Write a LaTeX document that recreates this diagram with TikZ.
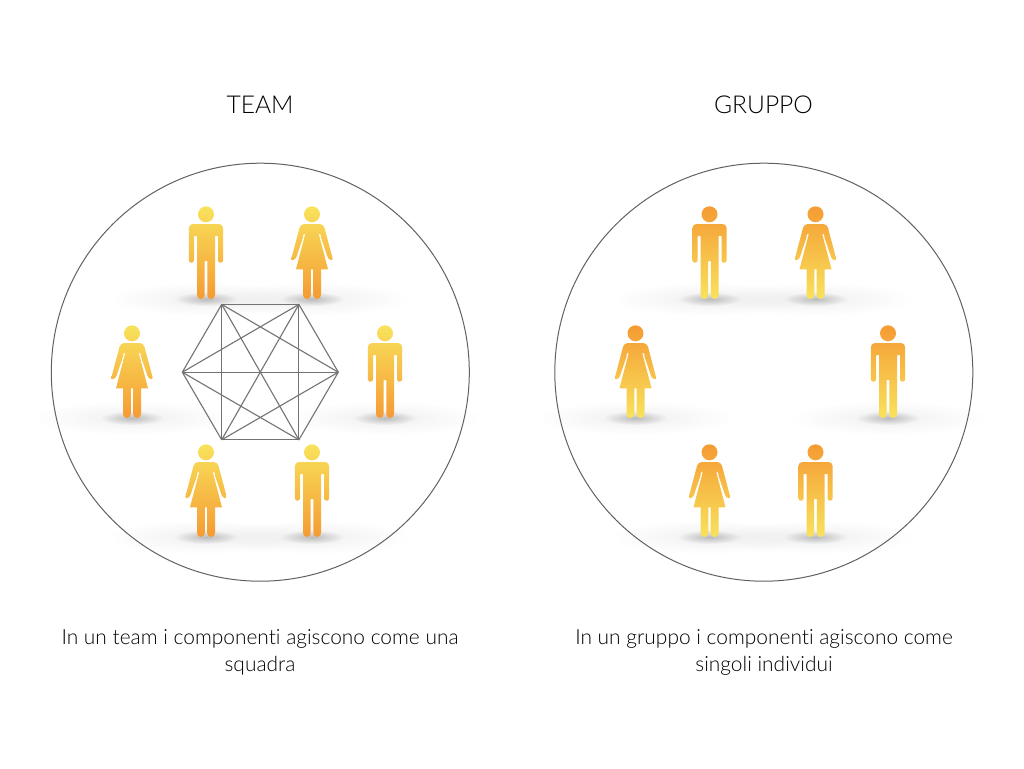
\documentclass[tikz,border=0pt]{standalone}
\usepackage{fontspec}
\setmainfont{Lato Light}[BoldFont={Lato},Ligatures=NoCommon]
\usetikzlibrary{calc}
\definecolor{fy}{HTML}{F8E25C}
\definecolor{fo}{HTML}{F59B33}
\tikzset{
  team/.style={top color=fy,bottom color=fo,middle color=fy!50!fo},
  gruppo/.style={top color=fo,bottom color=fy,middle color=fy!50!fo},
  ring/.style={draw=black!62,line width=1pt},
  link/.style={draw=black!55,line width=1.1pt},
  title/.style={font=\fontsize{24.6}{28}\selectfont,text=black,anchor=center},
  caption/.style={font=\fontsize{20.9}{27}\selectfont,text=black,align=center,anchor=center},
  softshadow/.pic={
    \shade[blend mode=multiply,inner color=black!6,outer color=white] (0,0) ellipse [x radius=100,y radius=17];
    \shade[blend mode=multiply,inner color=black!22,outer color=white] (0,0) ellipse [x radius=32,y radius=7];
  },
  pics/man/.style={code={
    \path[#1]
      (0,-84.7) circle [radius=8]
      [rounded corners=4] (-17.1,-75) rectangle (17.1,-63)
      [rounded corners=2.4] (-17.1,-72) rectangle (-12,-36.3) (12,-72) rectangle (17.1,-36.3)
      [sharp corners] (-9,-75) rectangle (9,-38)
      [rounded corners=3.9] (-9,-45) rectangle (-1.3,0) (1.3,-45) rectangle (9,0);
  }},
  pics/woman/.style={code={
    \path[#1]
      (0,-84.7) circle [radius=8]
      (-8,-75) -- (8,-75) -- (7,-64) -- (16,-29.7) -- (-16,-29.7) -- (-7,-64) -- cycle
      [rounded corners=3.8]
      (-3,-75) -- (-9,-62) -- (-14.9,-62) -- (-11.5,-75) -- cycle
      (3,-75) -- (11.5,-75) -- (14.9,-62) -- (9,-62) -- cycle
      [rounded corners=2.4]
      (-8.1,-64) -- (-16.4,-39.6) -- (-21.2,-38.3) -- (-12.8,-70) -- cycle
      (8.1,-64) -- (12.8,-70) -- (21.2,-38.3) -- (16.4,-39.6) -- cycle
      [rounded corners=3.9]
      (-1.2,-35) rectangle (-9,0) (9,-35) rectangle (1.2,0);
  }}
}
\begin{document}
\begin{tikzpicture}[x=1pt,y=-1pt]
\useasboundingbox (0,0) rectangle (1024,768);
\fill[white] (0,0) rectangle (1024,768);
% shadows
\foreach \px/\py in {206/299,312/299,132/418,385/418,206/537,312/537,709.5/299,815.5/299,635.5/418,888/418,709.5/537,815.5/537}
  \pic at (\px,\py) {softshadow};
% circles
\node[ring,circle,minimum size=418pt,inner sep=0pt] (cteam) at (260.3,372.2) {};
\node[ring,circle,minimum size=418pt,inner sep=0pt] (cgruppo) at (763.8,372.2) {};
% team figures
\pic at (206,299) {man=team};
\pic at (312,299) {woman=team};
\pic at (132,418) {woman=team};
\pic at (385,418) {man=team};
\pic at (206,537) {woman=team};
\pic at (312,537) {man=team};
% gruppo figures
\pic at (709.5,299) {man=gruppo};
\pic at (815.5,299) {woman=gruppo};
\pic at (635.5,418) {woman=gruppo};
\pic at (888,418) {man=gruppo};
\pic at (709.5,537) {woman=gruppo};
\pic at (815.5,537) {man=gruppo};
% complete graph
\coordinate (h1) at (221.7,304.4);
\coordinate (h2) at (298.9,304.4);
\coordinate (h3) at (338.3,372.2);
\coordinate (h4) at (298.9,439.8);
\coordinate (h5) at (221.7,439.8);
\coordinate (h6) at (182.3,372.2);
\foreach \a/\b in {1/2,1/3,1/4,1/5,1/6,2/3,2/4,2/5,2/6,3/4,3/5,3/6,4/5,4/6,5/6}
  \draw[link] (h\a) -- (h\b);
% texts
\node[title] (tteam) at (260,104.5) {TEAM};
\node[title] (tgruppo) at (763.5,104.5) {GRUPPO};
\node[caption] (cap1) at (260,652.5) {In un team i componenti agiscono come una\\squadra};
\node[caption] (cap2) at (764,652.5) {In un gruppo i componenti agiscono come\\singoli individui};
\end{tikzpicture}
\end{document}
